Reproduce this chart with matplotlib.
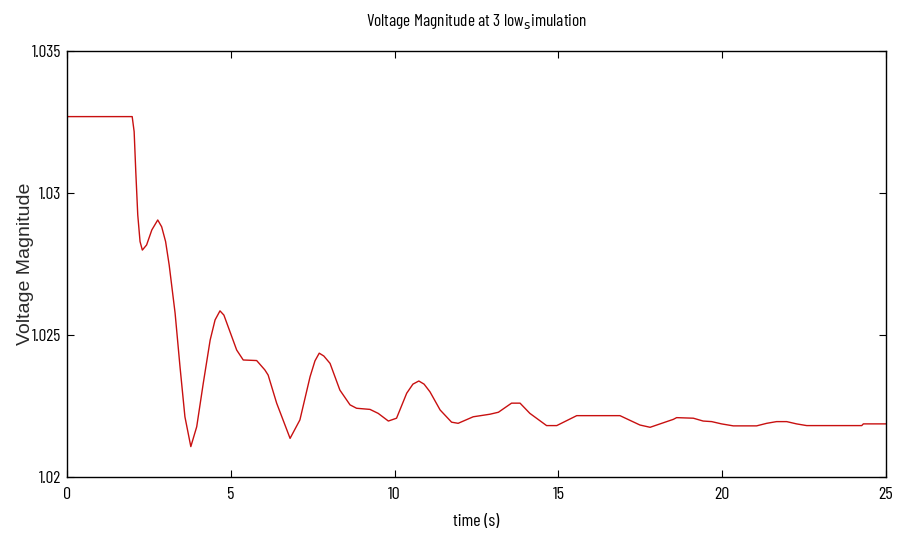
import matplotlib
matplotlib.use("Agg")
import matplotlib.pyplot as plt

# bus 3 voltage magnitude, low simulation
time_s = [0.0, 1.99, 2.05, 2.10, 2.16, 2.23, 2.30, 2.43, 2.59, 2.77, 2.89, 3.01,
          3.12, 3.30, 3.45, 3.60, 3.78, 3.96, 4.16, 4.37, 4.52, 4.67, 4.79, 4.92,
          5.18, 5.38, 5.79, 6.04, 6.14, 6.40, 6.81, 7.11, 7.42, 7.57, 7.70, 7.84,
          8.03, 8.33, 8.64, 8.84, 9.25, 9.50, 9.81, 10.06, 10.37, 10.56, 10.74,
          10.90, 11.08, 11.39, 11.74, 11.94, 12.40, 12.91, 13.17, 13.57, 13.83,
          14.13, 14.64, 14.95, 15.56, 16.88, 17.49, 17.80, 18.51, 18.61, 19.12,
          19.42, 19.68, 19.98, 20.34, 21.05, 21.36, 21.66, 21.97, 22.27, 22.58,
          24.26, 24.31, 25.0]
volt_mag = [1.03269, 1.03269, 1.03216, 1.03075, 1.02923, 1.02829, 1.02799,
            1.02817, 1.0287, 1.02905, 1.02881, 1.02829, 1.02746, 1.02577,
            1.02388, 1.02212, 1.02107, 1.02177, 1.0233, 1.02482, 1.02553,
            1.02585, 1.0257, 1.02529, 1.02447, 1.02412, 1.0241, 1.02377,
            1.02359, 1.0226, 1.02136, 1.02201, 1.02353, 1.02409, 1.02436,
            1.02426, 1.024, 1.02306, 1.02254, 1.02242, 1.02238, 1.02224,
            1.02197, 1.02207, 1.02295, 1.02327, 1.02338, 1.02327, 1.023,
            1.02236, 1.02193, 1.02189, 1.02212, 1.02221, 1.02228, 1.0226,
            1.0226, 1.02224, 1.02181, 1.02181, 1.02216, 1.02216, 1.02183,
            1.02175, 1.02203, 1.02209, 1.02207, 1.02197, 1.02195, 1.02187,
            1.0218, 1.0218, 1.02189, 1.02195, 1.02195, 1.02187, 1.02181,
            1.02181, 1.02187, 1.02187]

xticks = [0, 5, 10, 15, 20, 25]
yticks = [1.02, 1.025, 1.03, 1.035]

narrow = ["Barlow Condensed", "Archivo Narrow", "DejaVu Sans"]

fig = plt.figure(figsize=(8.98, 5.38), dpi=100)
ax = fig.add_axes([0.0746, 0.1134, 0.912, 0.7918])

ax.plot(time_s, volt_mag, color="#c81010", linewidth=1.0)

ax.set_xlim(0, 25)
ax.set_ylim(1.02, 1.035)
ax.set_xticks(xticks)
ax.set_xticklabels([str(v) for v in xticks], family=narrow, fontsize=13)
ax.set_yticks(yticks)
ax.set_yticklabels([f"{v:g}" for v in yticks], family=narrow, fontsize=12.5)
ax.tick_params(axis="x", direction="in", top=True, length=5, width=0.8, pad=7)
ax.tick_params(axis="y", direction="in", right=True, length=5, width=0.8, pad=4)
for s in ax.spines.values():
    s.set_linewidth(1.0)

ax.set_title(r"Voltage Magnitude at 3 low$_{\mathrm{s}}$imulation", family=narrow,
             fontsize=12.5, pad=18)
ax.set_xlabel("time (s)", family=narrow, fontsize=13)
ax.xaxis.set_label_coords(0.5, -0.088)
ax.set_ylabel("Voltage Magnitude", family="Liberation Sans", fontsize=14,
              color="#2a2a2a")
ax.yaxis.set_label_coords(-0.040, 0.5)

fig.savefig("out.png", dpi=100)
